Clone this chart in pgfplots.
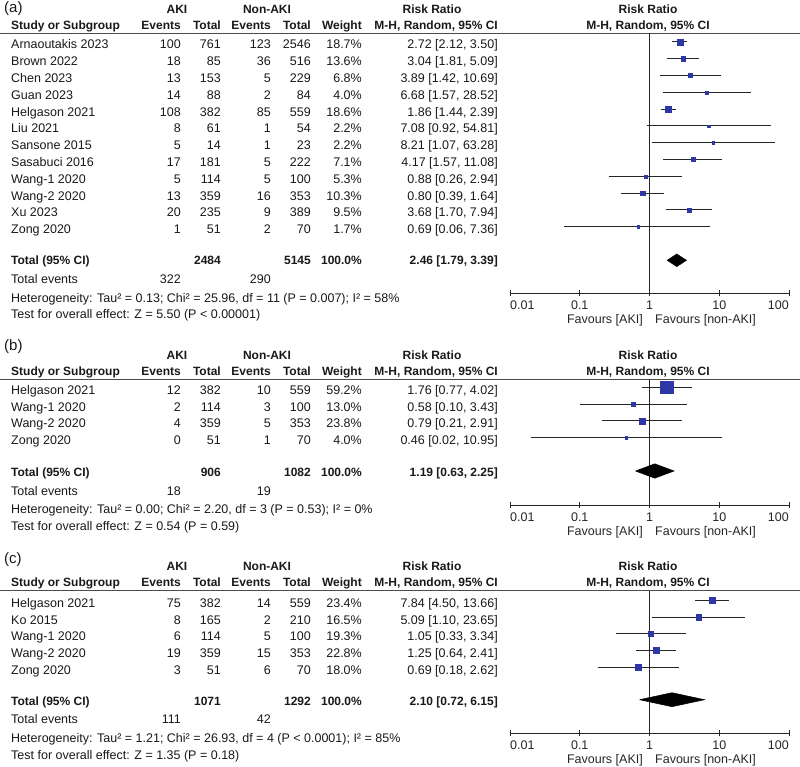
\documentclass[border=0pt]{standalone}
\usepackage{pgfplots}
\pgfplotsset{compat=1.18}
\usepackage{pgfplotstable}
\usepackage{fontspec}
\setmainfont{Liberation Sans}
\definecolor{rmblue}{RGB}{45,55,165}
\definecolor{txt}{RGB}{25,25,25}
\newcommand\fr{\fontsize{12.5}{15}\selectfont}
\newcommand\fb{\fontsize{12}{14}\selectfont\bfseries}

% study row: baseline, name, e1, t1, e2, t2, weight, rr
\newcommand\trow[8]{%
 \node[anchor=base west] at (11,-#1) {#2};
 \node[anchor=base east] at (181,-#1) {#3};
 \node[anchor=base east] at (221,-#1) {#4};
 \node[anchor=base east] at (271,-#1) {#5};
 \node[anchor=base east] at (311,-#1) {#6};
 \node[anchor=base east] at (362,-#1) {#7};
 \node[anchor=base east] at (498,-#1) {#8};
}
% header: rule y, panel label, label baseline
\newcommand\hdr[3]{%
 \node[anchor=base west,font=\fontsize{15}{18}\selectfont] at (4,-#3) {#2};
 \begin{scope}[every node/.append style={font=\fb}]
 \node[anchor=base] at (177,{-(#1-19.9)}) {AKI};
 \node[anchor=base] at (267,{-(#1-19.9)}) {Non-AKI};
 \node[anchor=base] at (432,{-(#1-19.9)}) {Risk Ratio};
 \node[anchor=base] at (648,{-(#1-19.9)}) {Risk Ratio};
 \node[anchor=base west] at (11,{-(#1-4.1)}) {Study or Subgroup};
 \node[anchor=base east] at (181,{-(#1-4.1)}) {Events};
 \node[anchor=base east] at (221,{-(#1-4.1)}) {Total};
 \node[anchor=base east] at (271,{-(#1-4.1)}) {Events};
 \node[anchor=base east] at (311,{-(#1-4.1)}) {Total};
 \node[anchor=base east] at (362,{-(#1-4.1)}) {Weight};
 \node[anchor=base east] at (498,{-(#1-4.1)}) {M-H, Random, 95\% CI};
 \node[anchor=base] at (648,{-(#1-4.1)}) {M-H, Random, 95\% CI};
 \end{scope}
 \draw[line width=1.4pt,black!70] (0,-#1) -- (800,-#1);
}
% totals: total baseline, t1, t2, rr, ev1, ev2, het, test
\newcommand\tot[8]{%
 \begin{scope}[every node/.append style={font=\fb}]
 \node[anchor=base west] at (11,-#1) {Total (95\% CI)};
 \node[anchor=base east] at (221,-#1) {#2};
 \node[anchor=base east] at (311,-#1) {#3};
 \node[anchor=base east] at (362,-#1) {100.0\%};
 \node[anchor=base east] at (498,-#1) {#4};
 \end{scope}
 \node[anchor=base west] at (11,{-(#1+18.6)}) {Total events};
 \node[anchor=base east] at (181,{-(#1+18.6)}) {#5};
 \node[anchor=base east] at (271,{-(#1+18.6)}) {#6};
 \node[anchor=base west] at (11,{-(#1+37.2)}) {#7};
 \node[anchor=base west] at (11,{-(#1+54)}) {#8};
}
% axis labels under forest axis: axis y
\newcommand\axlab[1]{%
 \begin{scope}[every node/.append style={text=black!85}]
 \node[anchor=base west] at (510,{-(#1+16)}) {0.01};
 \node[anchor=base] at (579.75,{-(#1+16)}) {0.1};
 \node[anchor=base] at (649.5,{-(#1+16)}) {1};
 \node[anchor=base] at (719.25,{-(#1+16)}) {10};
 \node[anchor=base east] at (789,{-(#1+16)}) {100};
 \node[anchor=base east] at (643,{-(#1+30.5)}) {Favours [AKI]};
 \node[anchor=base west] at (655,{-(#1+30.5)}) {Favours [non-AKI]};
 \end{scope}
}

\begin{document}
\begin{tikzpicture}[x=1pt,y=1pt,every node/.style={inner sep=0pt,font=\fr,text=txt}]
\useasboundingbox (0,0) rectangle (800,-767);

% ================= Panel (a) =================
\hdr{33.3}{(a)}{13}
\trow{49}{Arnaoutakis 2023}{100}{761}{123}{2546}{18.7\%}{2.72 [2.12, 3.50]}
\trow{65.8}{Brown 2022}{18}{85}{36}{516}{13.6\%}{3.04 [1.81, 5.09]}
\trow{82.6}{Chen 2023}{13}{153}{5}{229}{6.8\%}{3.89 [1.42, 10.69]}
\trow{99.4}{Guan 2023}{14}{88}{2}{84}{4.0\%}{6.68 [1.57, 28.52]}
\trow{116.2}{Helgason 2021}{108}{382}{85}{559}{18.6\%}{1.86 [1.44, 2.39]}
\trow{133}{Liu 2021}{8}{61}{1}{54}{2.2\%}{7.08 [0.92, 54.81]}
\trow{149.8}{Sansone 2015}{5}{14}{1}{23}{2.2\%}{8.21 [1.07, 63.28]}
\trow{166.6}{Sasabuci 2016}{17}{181}{5}{222}{7.1\%}{4.17 [1.57, 11.08]}
\trow{183.4}{Wang-1 2020}{5}{114}{5}{100}{5.3\%}{0.88 [0.26, 2.94]}
\trow{200.2}{Wang-2 2020}{13}{359}{16}{353}{10.3\%}{0.80 [0.39, 1.64]}
\trow{217}{Xu 2023}{20}{235}{9}{389}{9.5\%}{3.68 [1.70, 7.94]}
\trow{233.8}{Zong 2020}{1}{51}{2}{70}{1.7\%}{0.69 [0.06, 7.36]}
\tot{264.8}{2484}{5145}{2.46 [1.79, 3.39]}{322}{290}{Heterogeneity: Tau² = 0.13; Chi² = 25.96, df = 11 (P = 0.007); I² = 58\%}{Test for overall effect: Z = 5.50 (P < 0.00001)}
\axlab{293.3}

\begin{axis}[scale only axis, width=279pt, height=260pt, xmode=log, xmin=0.01, xmax=100,
  ymin=-293.3, ymax=-33.3, at={(510pt,-293.3pt)}, anchor=south west,
  axis x line=bottom, axis y line=none, x axis line style={-, line width=0.9pt, black!85},
  xtick={0.01,0.1,1,10,100}, xticklabels={}, xminorticks=false, major tick length=6pt,
  xtick align=center, tick style={line width=0.9pt, black!85}, clip=false]
\addplot[black!85, line width=0.9pt, forget plot] coordinates {(1,-293.3) (1,-33.3)};
\addplot[black!85, line width=1pt, unbounded coords=jump, forget plot] table {
x y
2.12 -42.0
3.50 -42.0
nan -42.0
1.81 -58.8
5.09 -58.8
nan -58.8
1.42 -75.6
10.69 -75.6
nan -75.6
1.57 -92.4
28.52 -92.4
nan -92.4
1.44 -109.2
2.39 -109.2
nan -109.2
0.92 -126.0
54.81 -126.0
nan -126.0
1.07 -142.8
63.28 -142.8
nan -142.8
1.57 -159.6
11.08 -159.6
nan -159.6
0.26 -176.4
2.94 -176.4
nan -176.4
0.39 -193.2
1.64 -193.2
nan -193.2
1.70 -210.0
7.94 -210.0
nan -210.0
0.06 -226.8
7.36 -226.8
};
\addplot[scatter, only marks, mark=square*, scatter/use mapped color={draw=rmblue,fill=rmblue},
   visualization depends on={\thisrow{ms}\as\msz},
   scatter/@pre marker code/.append style={/tikz/mark size=\msz pt}] table[x=rr,y=y] {
rr y ms
2.72 -42.0 3.0
3.04 -58.8 2.4
3.89 -75.6 2.0
6.68 -92.4 1.5
1.86 -109.2 2.9
7.08 -126.0 1.2
8.21 -142.8 1.2
4.17 -159.6 2.0
0.88 -176.4 1.4
0.80 -193.2 2.2
3.68 -210.0 2.0
0.69 -226.8 1.2
};
\addplot[fill=black, draw=black, line width=0.5pt, mark=none] coordinates {(1.79,-260.3) (2.46,-254.0) (3.39,-260.3) (2.46,-266.6) (1.79,-260.3)};
\end{axis}

% ================= Panel (b) =================
\hdr{379.3}{(b)}{350.5}
\trow{394.3}{Helgason 2021}{12}{382}{10}{559}{59.2\%}{1.76 [0.77, 4.02]}
\trow{411.1}{Wang-1 2020}{2}{114}{3}{100}{13.0\%}{0.58 [0.10, 3.43]}
\trow{427.9}{Wang-2 2020}{4}{359}{5}{353}{23.8\%}{0.79 [0.21, 2.91]}
\trow{444.7}{Zong 2020}{0}{51}{1}{70}{4.0\%}{0.46 [0.02, 10.95]}
\tot{476.5}{906}{1082}{1.19 [0.63, 2.25]}{18}{19}{Heterogeneity: Tau² = 0.00; Chi² = 2.20, df = 3 (P = 0.53); I² = 0\%}{Test for overall effect: Z = 0.54 (P = 0.59)}
\axlab{505}

\begin{axis}[scale only axis, width=279pt, height=125.7pt, xmode=log, xmin=0.01, xmax=100,
  ymin=-505, ymax=-379.3, at={(510pt,-505pt)}, anchor=south west,
  axis x line=bottom, axis y line=none, x axis line style={-, line width=0.9pt, black!85},
  xtick={0.01,0.1,1,10,100}, xticklabels={}, xminorticks=false, major tick length=6pt,
  xtick align=center, tick style={line width=0.9pt, black!85}, clip=false]
\addplot[black!85, line width=0.9pt, forget plot] coordinates {(1,-505) (1,-379.3)};
\addplot[black!85, line width=1pt, unbounded coords=jump, forget plot] table {
x y
0.77 -387.3
4.02 -387.3
nan -387.3
0.10 -404.1
3.43 -404.1
nan -404.1
0.21 -420.9
2.91 -420.9
nan -420.9
0.02 -437.7
10.95 -437.7
};
\addplot[scatter, only marks, mark=square*, scatter/use mapped color={draw=rmblue,fill=rmblue},
   visualization depends on={\thisrow{ms}\as\msz},
   scatter/@pre marker code/.append style={/tikz/mark size=\msz pt}] table[x=rr,y=y] {
rr y ms
1.76 -387.3 6.3
0.58 -404.1 2.0
0.79 -420.9 3.1
0.46 -437.7 1.2
};
\addplot[fill=black, draw=black, line width=0.5pt, mark=none] coordinates {(0.63,-471.0) (1.19,-463.8) (2.25,-471.0) (1.19,-478.2) (0.63,-471.0)};
\end{axis}

% ================= Panel (c) =================
\hdr{590.5}{(c)}{563.5}
\trow{607.3}{Helgason 2021}{75}{382}{14}{559}{23.4\%}{7.84 [4.50, 13.66]}
\trow{624}{Ko 2015}{8}{165}{2}{210}{16.5\%}{5.09 [1.10, 23.65]}
\trow{640.7}{Wang-1 2020}{6}{114}{5}{100}{19.3\%}{1.05 [0.33, 3.34]}
\trow{657.4}{Wang-2 2020}{19}{359}{15}{353}{22.8\%}{1.25 [0.64, 2.41]}
\trow{674.1}{Zong 2020}{3}{51}{6}{70}{18.0\%}{0.69 [0.18, 2.62]}
\tot{705.3}{1071}{1292}{2.10 [0.72, 6.15]}{111}{42}{Heterogeneity: Tau² = 1.21; Chi² = 26.93, df = 4 (P < 0.0001); I² = 85\%}{Test for overall effect: Z = 1.35 (P = 0.18)}
\axlab{733.3}

\begin{axis}[scale only axis, width=279pt, height=142.8pt, xmode=log, xmin=0.01, xmax=100,
  ymin=-733.3, ymax=-590.5, at={(510pt,-733.3pt)}, anchor=south west,
  axis x line=bottom, axis y line=none, x axis line style={-, line width=0.9pt, black!85},
  xtick={0.01,0.1,1,10,100}, xticklabels={}, xminorticks=false, major tick length=6pt,
  xtick align=center, tick style={line width=0.9pt, black!85}, clip=false]
\addplot[black!85, line width=0.9pt, forget plot] coordinates {(1,-733.3) (1,-590.5)};
\addplot[black!85, line width=1pt, unbounded coords=jump, forget plot] table {
x y
4.50 -600.3
13.66 -600.3
nan -600.3
1.10 -617.0
23.65 -617.0
nan -617.0
0.33 -633.7
3.34 -633.7
nan -633.7
0.64 -650.4
2.41 -650.4
nan -650.4
0.18 -667.1
2.62 -667.1
};
\addplot[scatter, only marks, mark=square*, scatter/use mapped color={draw=rmblue,fill=rmblue},
   visualization depends on={\thisrow{ms}\as\msz},
   scatter/@pre marker code/.append style={/tikz/mark size=\msz pt}] table[x=rr,y=y] {
rr y ms
7.84 -600.3 3.0
5.09 -617.0 2.8
1.05 -633.7 2.7
1.25 -650.4 3.0
0.69 -667.1 2.7
};
\addplot[fill=black, draw=black, line width=0.5pt, mark=none] coordinates {(0.72,-699.7) (2.10,-692.7) (6.15,-699.7) (2.10,-706.7) (0.72,-699.7)};
\end{axis}
\end{tikzpicture}
\end{document}
